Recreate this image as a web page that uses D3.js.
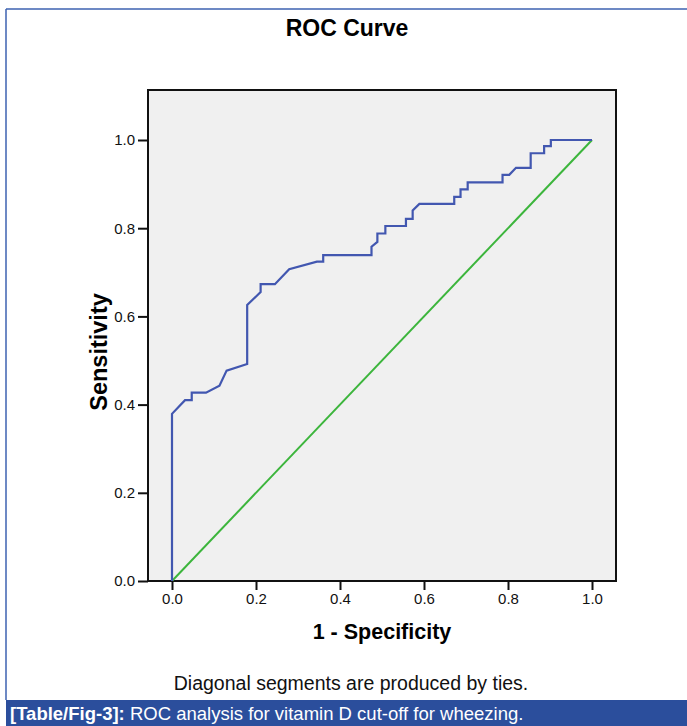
<!DOCTYPE html>
<html><head><meta charset="utf-8">
<script src="https://cdn.jsdelivr.net/npm/d3@7"></script>
<style>body{margin:0;background:#fff}svg{display:block}</style>
</head><body>
<script>
const fpr = [0,0,0.031,0.047,0.047,0.081,0.113,0.130,0.179,0.179,0.211,0.211,0.245,0.279,0.345,0.360,0.360,0.475,0.475,0.489,0.489,0.508,0.508,0.557,0.557,0.573,0.573,0.589,0.672,0.672,0.687,0.687,0.704,0.704,0.787,0.787,0.803,0.819,0.854,0.854,0.886,0.886,0.902,0.902,1.0];
const tpr = [0,0.379,0.410,0.410,0.427,0.427,0.443,0.477,0.492,0.626,0.655,0.673,0.673,0.707,0.724,0.724,0.739,0.739,0.758,0.769,0.788,0.788,0.805,0.805,0.821,0.821,0.840,0.855,0.855,0.871,0.871,0.888,0.888,0.904,0.904,0.921,0.921,0.937,0.937,0.970,0.970,0.986,0.986,1.0,1.0];
const refX = [0,1];
const refY = [0,1];
const xTicks = [0,0.2,0.4,0.6,0.8,1.0];
const yTicks = [0,0.2,0.4,0.6,0.8,1.0];

const W=687,H=726;
const svg=d3.select("body").append("svg").attr("width",W).attr("height",H);
const font="'Liberation Sans', Arial, sans-serif";

// outer border
svg.append("line").attr("x1",6).attr("x2",6).attr("y1",9).attr("y2",700).attr("stroke","#3d62b0").attr("stroke-width",1.5);
svg.append("line").attr("x1",6).attr("x2",W).attr("y1",9).attr("y2",9).attr("stroke","#3d62b0").attr("stroke-width",1.5);

const x=d3.scaleLinear().domain([0,1]).range([172,592]);
const y=d3.scaleLinear().domain([0,1]).range([581,140]);
const frame={l:148,r:616,t:90,b:581};

svg.append("rect").attr("x",frame.l).attr("y",frame.t).attr("width",frame.r-frame.l).attr("height",frame.b-frame.t)
  .attr("fill","#f0f0f0").attr("stroke","#111").attr("stroke-width",2);

const line=d3.line().x(d=>x(d[0])).y(d=>y(d[1]));
svg.append("path").datum(refX.map((v,i)=>[v,refY[i]])).attr("d",line).attr("fill","none").attr("stroke","#3cb53c").attr("stroke-width",2);
svg.append("path").datum(fpr.map((v,i)=>[v,tpr[i]])).attr("d",line).attr("fill","none").attr("stroke","#4257b0").attr("stroke-width",2.2);

const xa=svg.append("g").attr("transform",`translate(0,${frame.b})`)
  .call(d3.axisBottom(x).tickValues(xTicks).tickFormat(d3.format(".1f")).tickSize(9).tickPadding(3));
const ya=svg.append("g").attr("transform",`translate(${frame.l},0)`)
  .call(d3.axisLeft(y).tickValues(yTicks).tickFormat(d3.format(".1f")).tickSize(10).tickPadding(3));
[xa,ya].forEach(a=>{a.select(".domain").remove();a.selectAll("line").attr("stroke","#111").attr("stroke-width",2);
  a.selectAll("text").attr("font-family",font).attr("font-size",15).attr("fill","#111");});

svg.append("text").attr("x",347).attr("y",36).attr("text-anchor","middle").attr("font-family",font)
  .attr("font-weight","bold").attr("font-size",23).text("ROC Curve");
svg.append("text").attr("x",382).attr("y",639).attr("text-anchor","middle").attr("font-family",font)
  .attr("font-weight","bold").attr("font-size",21.5).text("1 - Specificity");
svg.append("text").attr("transform","translate(107,352) rotate(-90)").attr("text-anchor","middle").attr("font-family",font)
  .attr("font-weight","bold").attr("font-size",23.5).text("Sensitivity");
svg.append("text").attr("x",351).attr("y",690).attr("text-anchor","middle").attr("font-family",font)
  .attr("font-size",19.5).attr("fill","#111").text("Diagonal segments are produced by ties.");

svg.append("rect").attr("x",6).attr("y",700).attr("width",W-6).attr("height",26).attr("fill","#2b4e9c");
const cap=svg.append("text").attr("x",10).attr("y",720).attr("font-family",font).attr("font-size",18.5).attr("fill","#fff");
cap.append("tspan").attr("font-weight","bold").text("[Table/Fig-3]:");
cap.append("tspan").text(" ROC analysis for vitamin D cut-off for wheezing.");
</script>
</body></html>
